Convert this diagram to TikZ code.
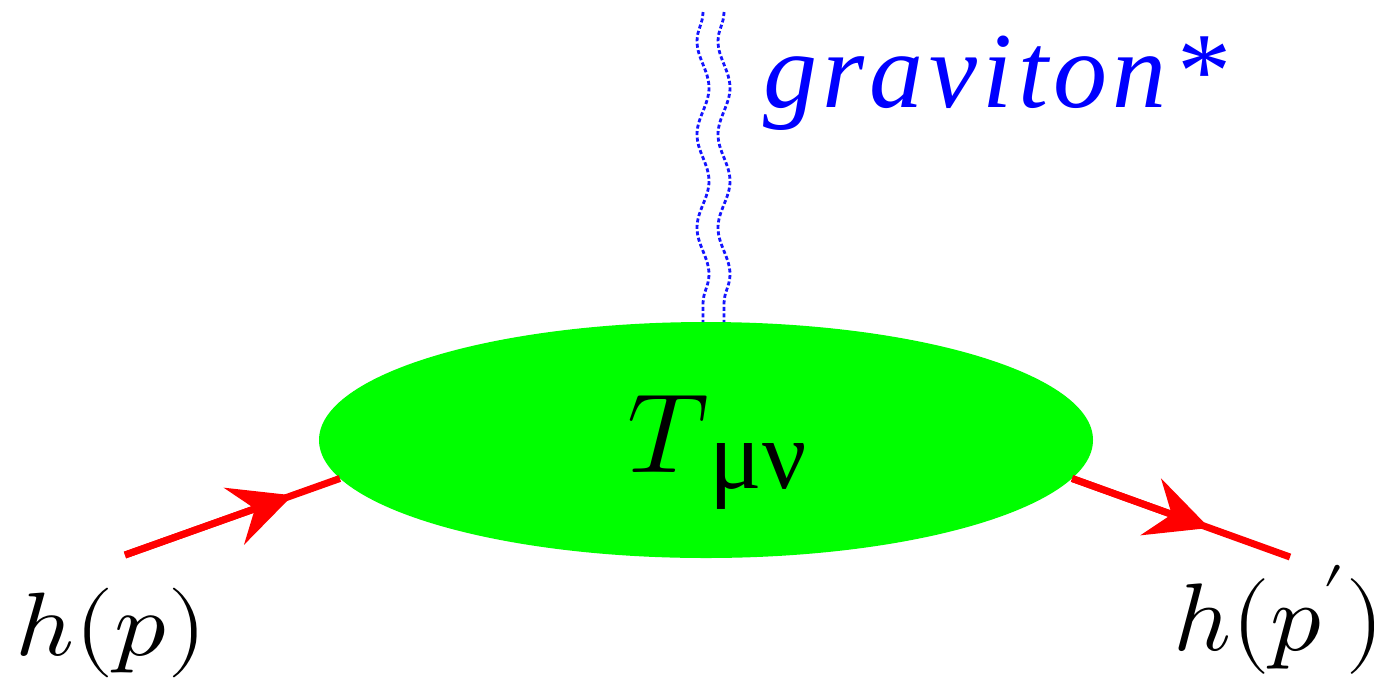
\documentclass[tikz,border=0pt]{standalone}
\usepackage{fontspec}
\usepackage{unicode-math}
\setmathfont{Latin Modern Math}
\newfontfamily\grk{Liberation Serif}
\newfontfamily\gravfont[LetterSpace=5]{Liberation Serif}
\usetikzlibrary{decorations.pathmorphing,shapes.geometric,arrows.meta}
\begin{document}
\begin{tikzpicture}[x=1pt,y=-1pt,
  blob/.style={ellipse, fill={rgb,255:red,0;green,255;blue,0}, minimum width=774pt, minimum height=236pt, inner sep=0pt},
  fermion/.style={draw={rgb,255:red,255;green,0;blue,0}, line width=7pt},
  ftip/.style={-{Stealth[length=62pt,width=60pt,inset=22pt]}},
  grav/.style={draw={rgb,255:red,20;green,20;blue,255}, line width=2.8pt, dash pattern=on 4pt off 2.5pt,
     decorate, decoration={snake, amplitude=-6pt, segment length=93.3pt}},
  lbl/.style={inner sep=0pt, anchor=base west}]
\useasboundingbox (0,0) rectangle (1388,681);
\node[blob] (T) at (706,440) {};
\node[lbl] (Tl) at (627,472) {\fontsize{113}{113}\selectfont$T$\raisebox{-16pt}{\fontsize{98}{98}\selectfont\grk μν}};
% graviton
\coordinate (g1a) at (703,12);
\coordinate (g1b) at (703,322);
\coordinate (g2a) at (724,12);
\coordinate (g2b) at (724,322);
\draw[grav] (g1a) -- (g1b);
\draw[grav] (g2a) -- (g2b);
\node[lbl, text={rgb,255:red,0;green,0;blue,255}] (gl) at (763,107) {\fontsize{108}{108}\selectfont\gravfont\itshape graviton*};
% fermion lines
\coordinate (in) at (125,555);
\coordinate (out) at (1290,557);
\path (in) -- (T.186) coordinate[pos=0.78] (tin);
\path (T.354) -- (out) coordinate[pos=0.63] (tout);
\draw[fermion] (in) -- (T.186);
\draw[fermion] (T.354) -- (out);
\draw[fermion, ftip] (in) -- (tin);
\draw[fermion, ftip] (T.354) -- (tout);
\node[lbl] (hp) at (15,655) {\scalebox{1.14}[1]{\fontsize{90}{90}\selectfont$h(p)$}};
\node[lbl] (hpp) at (1173,650) {\scalebox{1.05}[1]{\fontsize{96}{96}\selectfont$h(p')$}};
\end{tikzpicture}
\end{document}
